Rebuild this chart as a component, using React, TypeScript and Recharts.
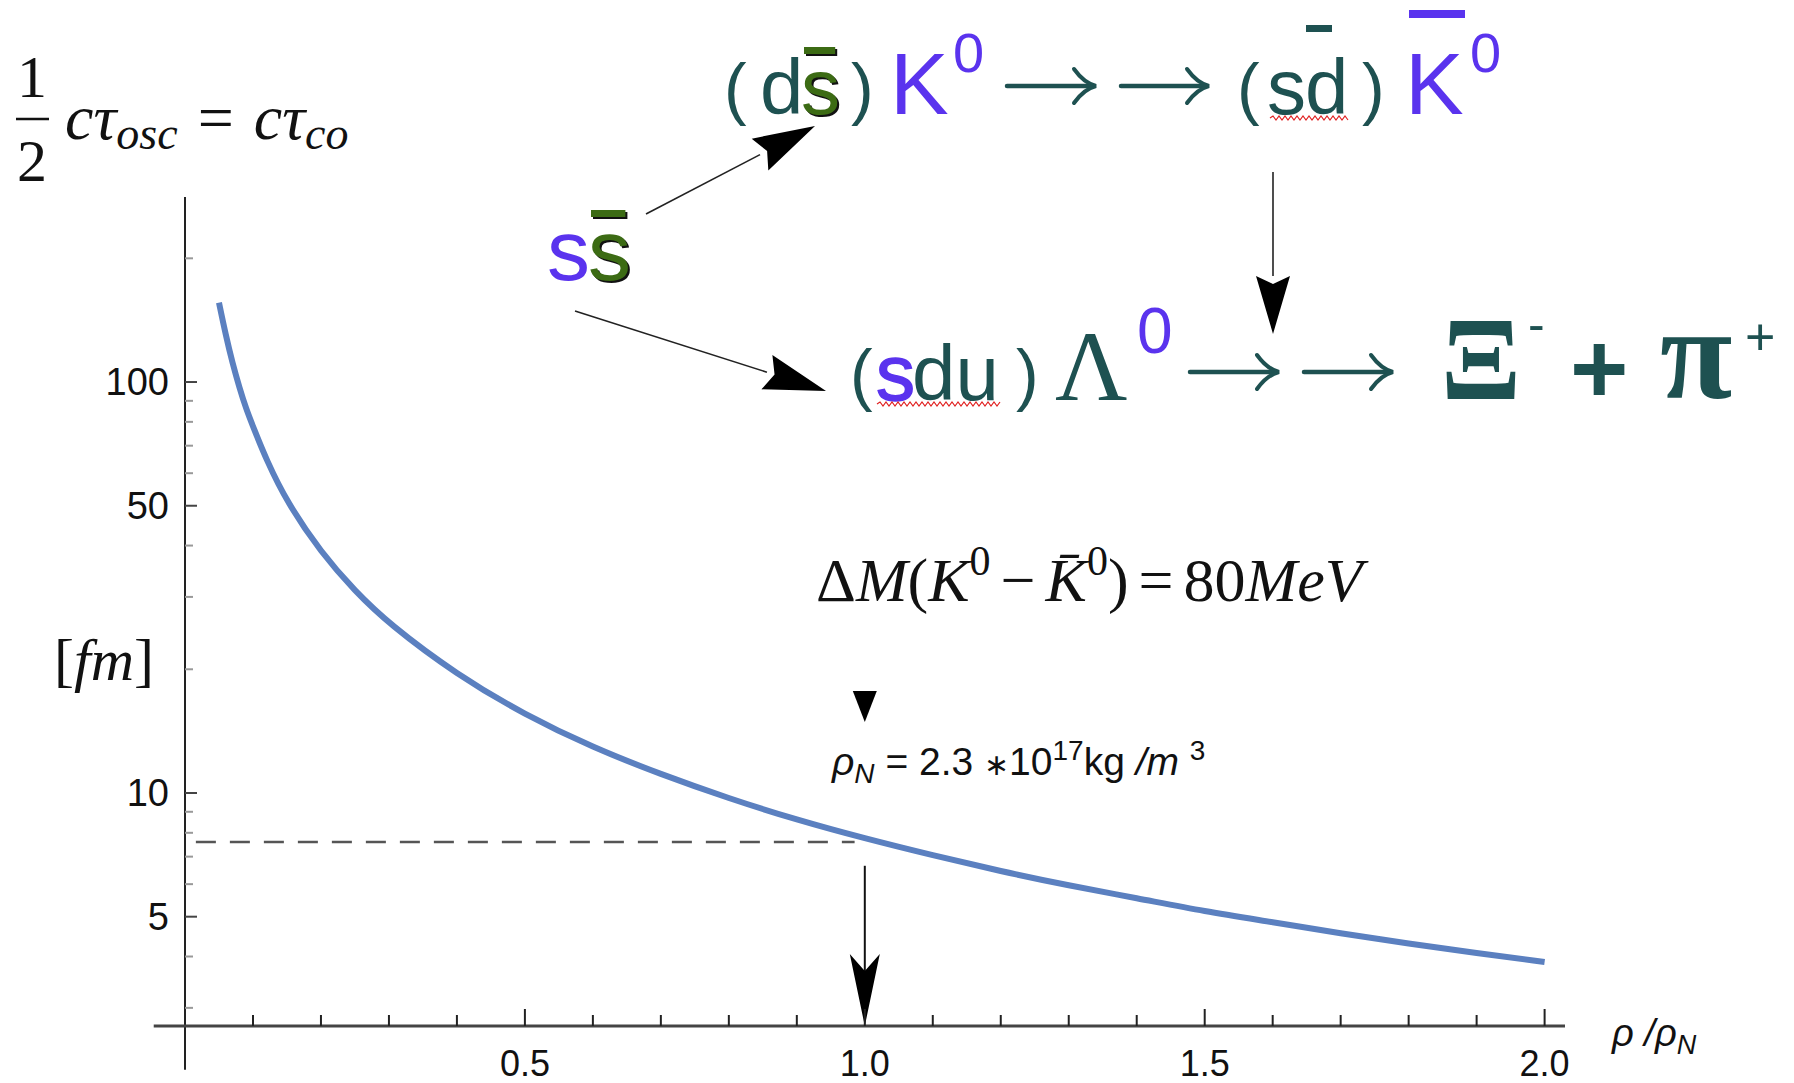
import React from 'react';
import { LineChart, Line, XAxis, YAxis, ReferenceLine, ReferenceDot } from 'recharts';

// rho / rho_N (x) and 1/2 c tau_osc [fm] (y)
const densityRatio = [0.05, 0.06, 0.07, 0.08, 0.09, 0.1, 0.12, 0.15, 0.2, 0.25, 0.3, 0.4, 0.5, 0.6, 0.7, 0.8, 0.9, 1.0, 1.1, 1.2, 1.3, 1.4, 1.5, 1.6, 1.7, 1.8, 1.9, 2.0];
const lengthFm = [156, 130, 111, 97, 86, 78, 64.5, 51, 38.5, 31, 25.8, 19.4, 15.5, 12.9, 11.1, 9.7, 8.6, 7.75, 7.05, 6.45, 5.95, 5.55, 5.15, 4.85, 4.55, 4.3, 4.08, 3.88];

const xTicks = [0.1, 0.2, 0.3, 0.4, 0.5, 0.6, 0.7, 0.8, 0.9, 1.0, 1.1, 1.2, 1.3, 1.4, 1.5, 1.6, 1.7, 1.8, 1.9, 2.0];
const xLabels = [0.5, 1.0, 1.5, 2.0];
const yTicks = [3, 4, 5, 6, 7, 8, 9, 10, 20, 30, 40, 50, 60, 70, 80, 90, 100, 200];
const yLabels = [5, 10, 50, 100];

const nuclearDensity = 1.0;
const nuclearLength = 7.6;

const data = densityRatio.map((x, i) => ({ x, y: lengthFm[i] }));

const BLUE = '#5a33ee';
const TEAL = '#1e5151';
const GREEN = '#3c6b14';
const SANS = '"Liberation Sans", Arial, sans-serif';
const SERIF = '"Liberation Serif", "Times New Roman", serif';

const XTick = (props: any) => {
  const { x, y, payload } = props;
  const v = Math.round(payload.value * 10) / 10;
  const major = xLabels.includes(v);
  return (
    <g>
      <line x1={x} y1={y} x2={x} y2={y - (major ? 17 : 11)} stroke="#222" strokeWidth={2} />
      {major && (
        <text x={x} y={y + 50} textAnchor="middle" fontSize={36} fontFamily={SANS} fill="#111">
          {v.toFixed(1)}
        </text>
      )}
    </g>
  );
};

const YTick = (props: any) => {
  const { x, y, payload } = props;
  const major = yLabels.includes(payload.value);
  return (
    <g>
      <line x1={x} y1={y} x2={x + (major ? 12 : 8)} y2={y} stroke={major ? '#444' : '#999'} strokeWidth={2} />
      {major && (
        <text x={x - 16} y={y + 13} textAnchor="end" fontSize={38} fontFamily={SANS} fill="#111">
          {payload.value}
        </text>
      )}
    </g>
  );
};

const ArrowDown = (props: any) => {
  const { x1, y1, x2, y2 } = props;
  return (
    <g>
      <line x1={x1} y1={y1} x2={x2} y2={y2 - 40} stroke="#111" strokeWidth={2} />
      <polygon points={`${x2},${y2} ${x2 - 15},${y2 - 72} ${x2},${y2 - 55} ${x2 + 15},${y2 - 72}`} fill="#000" />
    </g>
  );
};

const Marker = (props: any) => {
  const { cx, cy } = props;
  return <polygon points={`${cx - 12},${cy - 16} ${cx + 12},${cy - 16} ${cx},${cy + 15}`} fill="#000" />;
};

function arrow(x1: number, y1: number, x2: number, y2: number, len: number, half: number) {
  const dx = x2 - x1;
  const dy = y2 - y1;
  const l = Math.sqrt(dx * dx + dy * dy);
  const ux = dx / l;
  const uy = dy / l;
  const bx = x2 - ux * len;
  const by = y2 - uy * len;
  return (
    <g>
      <line x1={x1} y1={y1} x2={bx} y2={by} stroke="#222" strokeWidth={1.6} />
      <polygon
        points={`${x2},${y2} ${bx - uy * half},${by + ux * half} ${bx + ux * 8},${by + uy * 8} ${bx + uy * half},${by - ux * half}`}
        fill="#000"
      />
    </g>
  );
}

// TeX style right arrow
function rightArrow(x0: number, x1: number, y: number) {
  return (
    <g stroke={TEAL} fill="none" strokeLinecap="round">
      <line x1={x0} y1={y} x2={x1 - 3} y2={y} strokeWidth={4.5} />
      <path d={`M${x1 - 22},${y - 17} Q${x1 - 12},${y - 3} ${x1},${y} Q${x1 - 12},${y + 3} ${x1 - 22},${y + 17}`} strokeWidth={4} />
    </g>
  );
}

function wavy(x0: number, x1: number, y: number) {
  let d = `M${x0},${y}`;
  let up = true;
  for (let x = x0 + 3; x <= x1; x += 3) {
    d += ` L${x},${up ? y - 2 : y + 2}`;
    up = !up;
  }
  return <path d={d} fill="none" stroke="#e02020" strokeWidth={1.2} />;
}

// green antiquark letter with bar and a dark drop shadow
function antiS(x: number, y: number, size: number, barY: number) {
  return (
    <g>
      <text x={x + 2} y={y + 2} fontSize={size} fontFamily={SANS} fill="#111">s</text>
      <rect x={x + 5} y={barY + 2} width={size * 0.4} height={7} fill="#111" />
      <text x={x} y={y} fontSize={size} fontFamily={SANS} fill={GREEN}>s</text>
      <rect x={x + 3} y={barY} width={size * 0.4} height={7} fill={GREEN} />
    </g>
  );
}

const Overlay = () => (
  <svg width={1794} height={1083} style={{ position: 'absolute', left: 0, top: 0, pointerEvents: 'none' }}>
    {/* top-left formula */}
    <text x={32} y={97} textAnchor="middle" fontSize={60} fontFamily={SERIF} fill="#111">1</text>
    <line x1={16} y1={119} x2={49} y2={119} stroke="#111" strokeWidth={2.5} />
    <text x={32} y={181} textAnchor="middle" fontSize={60} fontFamily={SERIF} fill="#111">2</text>
    <text x={65} y={139} fontSize={64} fontFamily={SERIF} fontStyle="italic" fill="#111">
      <tspan>cτ</tspan>
      <tspan fontSize={46} dy={10}>osc</tspan>
      <tspan dy={-10} dx={20} fontStyle="normal">=</tspan>
      <tspan dx={20}>cτ</tspan>
      <tspan fontSize={46} dy={10}>co</tspan>
    </text>

    {/* y unit */}
    <text x={54} y={680} fontSize={60} fontFamily={SERIF} fill="#111">
      <tspan>[</tspan>
      <tspan fontStyle="italic">fm</tspan>
      <tspan>]</tspan>
    </text>

    {/* x label */}
    <text x={1612} y={1046} fontSize={38} fontFamily={SANS} fontStyle="italic" fill="#111">
      <tspan>ρ /ρ</tspan>
      <tspan fontSize={27} dy={8}>N</tspan>
    </text>

    {/* mass difference */}
    <text x={816} y={601} fontSize={62} fontFamily={SERIF} fill="#111">
      <tspan>Δ</tspan>
      <tspan fontStyle="italic">M</tspan>
      <tspan>(</tspan>
      <tspan fontStyle="italic">K</tspan>
      <tspan fontSize={42} dy={-26}>0</tspan>
      <tspan dy={26} dx={10}>−</tspan>
      <tspan dx={10} fontStyle="italic">K̄</tspan>
      <tspan fontSize={42} dy={-26}>0</tspan>
      <tspan dy={26}>)</tspan>
      <tspan dx={10}>=</tspan>
      <tspan dx={10}>80</tspan>
      <tspan fontStyle="italic">MeV</tspan>
    </text>

    {/* nuclear density */}
    <text x={832} y={775} fontSize={39} fontFamily={SANS} fill="#111">
      <tspan fontStyle="italic">ρ</tspan>
      <tspan fontStyle="italic" fontSize={28} dy={8}>N</tspan>
      <tspan dy={-8}> = 2.3 </tspan>
      <tspan fontSize={30}>∗</tspan>
      <tspan>10</tspan>
      <tspan fontSize={28} dy={-15}>17</tspan>
      <tspan dy={15}>kg </tspan>
      <tspan fontStyle="italic">/m </tspan>
      <tspan fontSize={28} dy={-15}>3</tspan>
    </text>

    {/* s sbar */}
    <text x={547} y={280} fontSize={86} fontFamily={SANS} fill={BLUE}>s</text>
    {antiS(588, 280, 86, 210)}
    {arrow(646, 214, 815, 126, 62, 18)}
    {arrow(575, 311, 826, 391, 62, 18)}

    {/* row 1: (d sbar) K0 -> -> (s dbar) K0bar */}
    <text x={724} y={112} fontSize={68} fontFamily={SANS} fill={TEAL}>(</text>
    <text x={760} y={114} fontSize={78} fontFamily={SANS} fill={TEAL}>d</text>
    {antiS(801, 114, 78, 47)}
    <text x={851} y={112} fontSize={68} fontFamily={SANS} fill={TEAL}>)</text>
    <text x={890} y={114} fontSize={88} fontFamily={SANS} fill={BLUE}>K</text>
    <text x={953} y={72} fontSize={56} fontFamily={SANS} fill={BLUE}>0</text>
    {rightArrow(1007, 1096, 86)}
    {rightArrow(1121, 1209, 86)}
    <text x={1237} y={112} fontSize={68} fontFamily={SANS} fill={TEAL}>(</text>
    <text x={1267} y={114} fontSize={78} fontFamily={SANS} fill={TEAL}>s</text>
    <text x={1305} y={114} fontSize={78} fontFamily={SANS} fill={TEAL}>d</text>
    <rect x={1306} y={25} width={26} height={7} fill={TEAL} />
    {wavy(1270, 1350, 118)}
    <text x={1362} y={112} fontSize={68} fontFamily={SANS} fill={TEAL}>)</text>
    <text x={1405} y={114} fontSize={88} fontFamily={SANS} fill={BLUE}>K</text>
    <rect x={1409} y={10} width={56} height={8} fill={BLUE} />
    <text x={1470} y={72} fontSize={56} fontFamily={SANS} fill={BLUE}>0</text>
    {arrow(1273, 172, 1273, 334, 58, 17)}

    {/* row 2: (sdu) Lambda0 -> -> Xi- + pi+ */}
    <text x={850} y={398} fontSize={68} fontFamily={SANS} fill={TEAL}>(</text>
    <text x={876} y={400} fontSize={78} fontFamily={SANS} fill={BLUE} stroke={BLUE} strokeWidth={1.5}>s</text>
    <text x={912} y={400} fontSize={78} fontFamily={SANS} fill={TEAL}>du</text>
    {wavy(877, 1001, 404)}
    <text x={1016} y={398} fontSize={68} fontFamily={SANS} fill={TEAL}>)</text>
    <text x={1055} y={400} fontSize={100} fontFamily={SERIF} fill={TEAL}>Λ</text>
    <text x={1137} y={353} fontSize={64} fontFamily={SANS} fill={BLUE}>0</text>
    {rightArrow(1190, 1279, 372)}
    {rightArrow(1304, 1393, 372)}
    <text x={1441} y={399} fontSize={118} fontFamily={SERIF} fontWeight="bold" fill={TEAL}>Ξ</text>
    <text x={1528} y={341} fontSize={50} fontFamily={SANS} fill={TEAL}>-</text>
    <text x={1570} y={403} fontSize={100} fontFamily={SANS} fontWeight="bold" fill={TEAL}>+</text>
    <text x={1660} y={398} fontSize={132} fontFamily={SERIF} fontWeight="bold" fill={TEAL}>π</text>
    <text x={1745} y={355} fontSize={52} fontFamily={SANS} fill={TEAL}>+</text>
  </svg>
);

const App: React.FC = () => {
  return (
    <div style={{ position: 'absolute', left: 0, top: 0, width: 1794, height: 1083, background: '#fff' }}>
      <LineChart width={1794} height={1083} data={data} margin={{ top: 197, right: 229, bottom: 0, left: 0 }}>
        <XAxis
          type="number"
          dataKey="x"
          domain={[0, 2.03]}
          ticks={xTicks}
          interval={0}
          allowDataOverflow
          axisLine={false}
          tickLine={false}
          tickSize={0}
          tickMargin={0}
          height={57}
          tick={<XTick />}
        />
        <YAxis
          type="number"
          scale="log"
          domain={[2.71, 282]}
          ticks={yTicks}
          interval={0}
          allowDataOverflow
          axisLine={false}
          tickLine={false}
          tickSize={0}
          tickMargin={0}
          width={185}
          tick={<YTick />}
        />
        <ReferenceLine segment={[{ x: 0, y: 2.12 }, { x: 0, y: 282 }]} stroke="#222" strokeWidth={2} ifOverflow="visible" />
        <ReferenceLine segment={[{ x: -0.046, y: 2.71 }, { x: 2.03, y: 2.71 }]} stroke="#444" strokeWidth={3} ifOverflow="visible" />
        <ReferenceLine
          segment={[{ x: 0.016, y: nuclearLength }, { x: 0.985, y: nuclearLength }]}
          stroke="#555"
          strokeWidth={2.5}
          strokeDasharray="20 14"
          ifOverflow="visible"
        />
        <ReferenceLine
          segment={[{ x: nuclearDensity, y: 6.65 }, { x: nuclearDensity, y: 2.71 }]}
          ifOverflow="visible"
          shape={(p: any) => <ArrowDown {...p} />}
        />
        <ReferenceDot x={nuclearDensity} y={16.2} r={12} ifOverflow="visible" shape={(p: any) => <Marker {...p} />} />
        <Line type="basis" dataKey="y" stroke="#5b80c0" strokeWidth={6} dot={false} isAnimationActive={false} />
      </LineChart>
      <Overlay />
    </div>
  );
};

export default App;
